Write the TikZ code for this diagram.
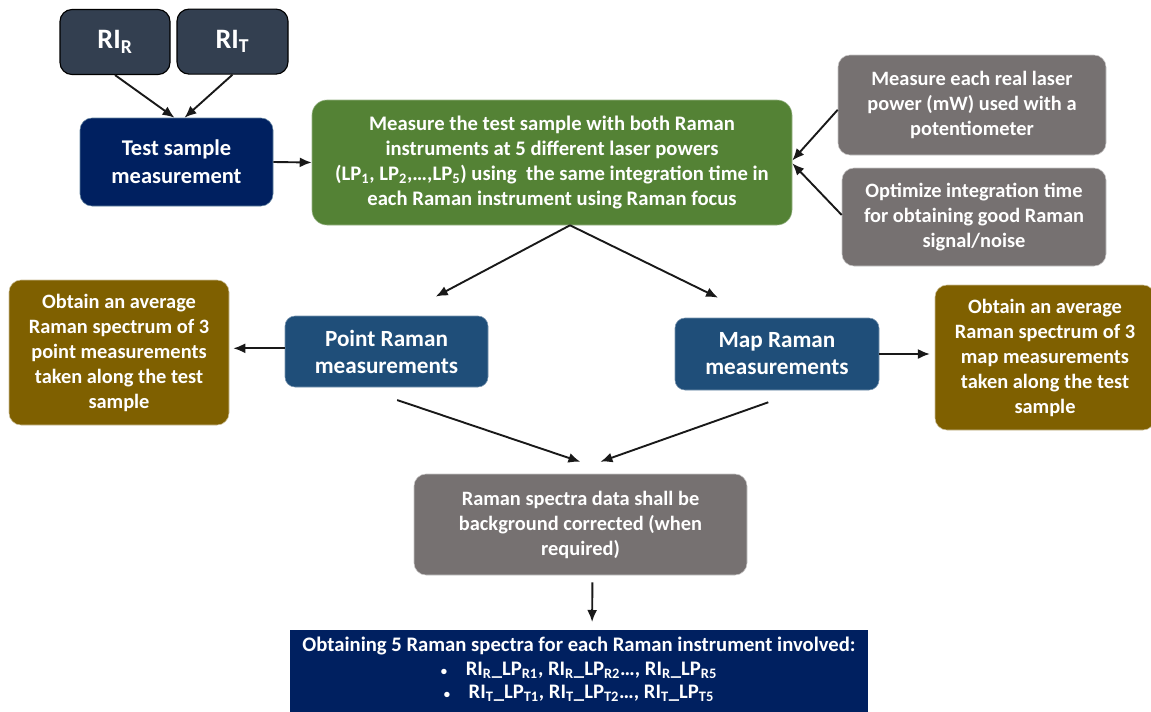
\documentclass[tikz,border=0pt]{standalone}
\usepackage{fontspec}
\setmainfont{Carlito}
\usetikzlibrary{arrows.meta}
\definecolor{slateRI}{RGB}{51,63,80}
\definecolor{navyB}{RGB}{0,32,96}
\definecolor{greenB}{RGB}{84,130,53}
\definecolor{grayB}{RGB}{118,113,113}
\definecolor{oliveB}{RGB}{127,96,0}
\definecolor{blueB}{RGB}{31,78,121}
\tikzset{box/.style={rounded corners=0.3cm, align=center, text=white, inner sep=2pt, font=\bfseries\fontsize{14.5}{17.8}\selectfont}}
\tikzset{arr/.style={-{Latex[length=3mm,width=2.5mm]}, line width=1.35pt, black!90}}
\newcommand{\lo}[1]{\textsubscript{#1}}

\begin{document}
\begin{tikzpicture}
        \clip (0,0) rectangle (28.775,-17.775);
        \fill[white] (0,0) rectangle (28.775,-17.775);
        % top left
        \node [box, fill=slateRI, draw=black, line width=0.8pt, minimum width=2.75cm, minimum height=1.625cm, font=\bfseries\fontsize{20}{22}\selectfont] (rir) at (2.875,-1.05) {RI\lo{R}};
        \node [box, fill=slateRI, draw=black, line width=0.8pt, minimum width=2.775cm, minimum height=1.625cm, font=\bfseries\fontsize{20}{22}\selectfont] (rit) at (5.8125,-1.04) {RI\lo{T}};
        \node [box, fill=navyB, draw=blueB!70!white, minimum width=4.825cm, minimum height=2.2cm, font=\bfseries\fontsize{16}{19.9}\selectfont] (test) at (4.4125,-4.05) {Test sample\\measurement};
        \node [box, rounded corners=0.375cm, fill=greenB, draw=greenB!60!white, minimum width=12cm, minimum height=3.125cm, font=\bfseries\fontsize{14.7}{17.6}\selectfont] (meas) at (13.8,-4.0625) {Measure the test sample with both Raman\\instruments at 5 different laser powers\\(LP\lo{1}, LP\lo{2},\dots,LP\lo{5}) using\ \ the same integration time in\\each Raman instrument using Raman focus};
        % right column
        \node [box, fill=grayB, draw=grayB!40!white, minimum width=6.7cm, minimum height=2.5cm] (power) at (24.3,-2.625) {Measure each real laser\\power (mW) used with a\\potentiometer};
        \node [box, fill=grayB, draw=grayB!40!white, minimum width=6.6cm, minimum height=2.45cm] (itime) at (24.35,-5.425) {Optimize integration time\\for obtaining good Raman\\signal/noise};
        % middle row
        \node [box, fill=oliveB, draw=oliveB!40!white, minimum width=5.5cm, minimum height=3.625cm] (avgpt) at (2.975,-8.8125) {Obtain an average\\Raman spectrum of 3\\point measurements\\taken along the test\\sample};
        \node [box, rounded corners=0.25cm, fill=blueB, draw=blueB!60!white, minimum width=5.075cm, minimum height=1.775cm, font=\bfseries\fontsize{16.5}{19.2}\selectfont] (point) at (9.6625,-8.7875) {Point Raman\\measurements};
        \node [box, rounded corners=0.25cm, fill=blueB, draw=blueB!60!white, minimum width=5.1cm, minimum height=1.8cm, font=\bfseries\fontsize{16.5}{19.2}\selectfont] (map) at (19.425,-8.85) {Map Raman\\measurements};
        \node [box, fill=oliveB, draw=oliveB!40!white, minimum width=5.5cm, minimum height=3.625cm] (avgmap) at (26.125,-8.9375) {Obtain an average\\Raman spectrum of 3\\map measurements\\taken along the test\\sample};
        % bottom
        \node [box, fill=grayB, draw=grayB!40!white, minimum width=8.325cm, minimum height=2.525cm] (bgcor) at (14.5125,-13.1125) {Raman spectra data shall be\\background corrected (when\\required)};
        \node [box, rounded corners=0pt, fill=navyB, anchor=north, minimum width=14.45cm, minimum height=2.5cm, inner xsep=3pt, inner ysep=5pt, font=\bfseries\fontsize{14.7}{16.6}\selectfont] (spectra) at (14.475,-15.75) {Obtaining 5 Raman spectra for each Raman instrument involved:\\
            {\small\textbullet}\hspace{0.9em}RI\lo{R}\_LP\lo{R1}, RI\lo{R}\_LP\lo{R2}\dots, RI\lo{R}\_LP\lo{R5}\\
            {\small\textbullet}\hspace{0.9em}RI\lo{T}\_LP\lo{T1}, RI\lo{T}\_LP\lo{T2}\dots, RI\lo{T}\_LP\lo{T5}\\[2pt]};
        % connectors
        \draw [arr] (rir.south) -- ([xshift=-0.05cm]test.north);
        \draw [arr] (rit.south) -- ([xshift=0.2cm]test.north);
        \draw [arr] (test.east) -- (meas.west);
        \draw [arr] ([yshift=-0.12cm]power.west) -- ([yshift=0.05cm]meas.east);
        \draw [arr] ([yshift=0.05cm]itime.west) -- ([yshift=-0.02cm]meas.east);
        \draw [arr, shorten >=1.02cm] ([xshift=0.45cm]meas.south) -- ([xshift=0.33cm]point.north);
        \draw [arr, shorten >=1.14cm] ([xshift=0.45cm]meas.south) -- ([xshift=-0.45cm]map.north);
        \draw [arr, shorten >=0.1cm] ([yshift=0.08cm]point.west) -- ([yshift=0.08cm]point.west -| avgpt.east);
        \draw [arr, shorten >=0.12cm] (map.east) -- (map.east -| avgmap.west);
        \draw [arr, shorten <=1cm, shorten >=0.93cm] ([xshift=-0.68cm]point.south) -- ([xshift=0.88cm]bgcor.north);
        \draw [arr, shorten <=0.9cm, shorten >=0.9cm] ([xshift=0.63cm]map.south) -- ([xshift=-0.35cm]bgcor.north);
        \draw [arr, shorten <=0.18cm, shorten >=0.2cm] ([xshift=0.3cm]bgcor.south) -- ([xshift=0.325cm]spectra.north);
    \end{tikzpicture}
\end{document}
